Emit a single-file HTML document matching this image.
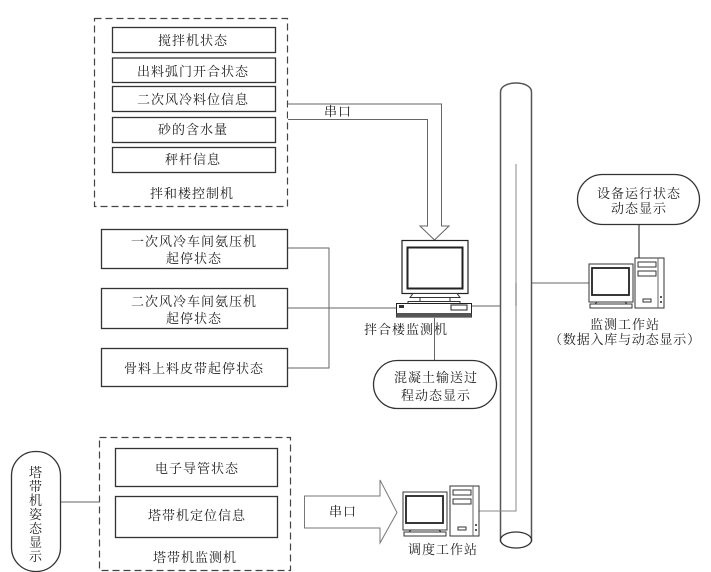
<!DOCTYPE html>
<html><head><meta charset="utf-8"><style>
html,body{margin:0;padding:0;background:#fff;width:711px;height:572px;overflow:hidden}
svg{display:block}
text{font-family:"Liberation Serif","Noto Serif CJK SC",serif;font-size:13px;fill:#222;text-anchor:middle;letter-spacing:1px}
.b{fill:#fff;stroke:#333;stroke-width:1.3}
.d{fill:none;stroke:#444;stroke-width:1.2;stroke-dasharray:7 4}
.l{fill:none;stroke:#666;stroke-width:1}
.n{fill:#fff;stroke:#333;stroke-width:1}
</style></head><body>
<svg width="711" height="572" viewBox="0 0 711 572" xmlns="http://www.w3.org/2000/svg">
<defs>
<g id="mon">
<rect class="n" x="0" y="0" width="44" height="38"/>
<rect x="3" y="4" width="37" height="27" fill="#fff" stroke="#222" stroke-width="1.8"/>
<path class="n" d="M8 38h28l2 2H6z"/>
<rect class="n" x="1" y="40" width="42" height="4" fill="#bbb"/>
</g>
<g id="tower">
<rect class="n" x="0" y="0" width="29" height="50"/>
<path class="l" d="M23 0v50"/>
<rect class="n" x="3" y="4" width="18" height="5" fill="#999"/>
<rect class="n" x="3" y="13" width="18" height="5" fill="#999"/>
<path class="n" d="M8 41h8v3H8z"/>
<path d="M26 38v2M26 43v2" stroke="#222" stroke-width="1.5"/>
</g>
</defs>

<!-- dashed containers -->
<rect class="d" x="94.500" y="18.500" width="193" height="188"/>
<rect class="d" x="99.500" y="437.500" width="191" height="133"/>

<!-- top inner -->
<rect class="b" x="112.500" y="27.500" width="163" height="25"/>
<rect class="b" x="112.500" y="58" width="163" height="24.500"/>
<rect class="b" x="112.500" y="86.500" width="163" height="25"/>
<rect class="b" x="112.500" y="117.500" width="163" height="25"/>
<rect class="b" x="112.500" y="147.500" width="163" height="25"/>
<text x="193" y="45">搅拌机状态</text>
<text x="193" y="76">出料弧门开合状态</text>
<text x="193" y="104">二次风冷料位信息</text>
<text x="193" y="134">砂的含水量</text>
<text x="193" y="164">秤杆信息</text>
<text x="192" y="198">拌和楼控制机</text>

<!-- serial arrow top -->
<path d="M288 104H441.500V226H449L434.500 240L420 226H427.500V119.500H288" fill="#fff" stroke="#666" stroke-width="1"/>
<text x="338" y="116">串口</text>

<!-- left boxes -->
<path class="l" d="M287 248H329V368H287"/>
<path class="l" d="M287 308H396"/>
<path class="l" d="M472 306H516"/>
<path class="l" d="M516 283H590"/>
<rect class="b" x="101.500" y="229.500" width="186" height="39"/>
<rect class="b" x="101.500" y="288.500" width="186" height="40"/>
<rect class="b" x="101.500" y="348.500" width="186" height="38"/>
<text x="194" y="246">一次风冷车间氨压机</text>
<text x="194" y="263">起停状态</text>
<text x="194" y="306">二次风冷车间氨压机</text>
<text x="194" y="323">起停状态</text>
<text x="194" y="373">骨料上料皮带起停状态</text>

<!-- cylinder -->
<path d="M500.500 92C500.500 80 531.500 80 531.500 92V541H500.500Z" fill="#fff" stroke="#555" stroke-width="1.500"/>
<ellipse cx="516" cy="540" rx="15.500" ry="8" fill="#fff" stroke="#333" stroke-width="1.300"/>
<path d="M516 164V511H479" fill="none" stroke="#888" stroke-width="1"/>
<path class="l" d="M516 283V306"/>

<!-- main monitor -->
<path class="l" d="M434.500 318V360"/>
<rect x="402" y="240.500" width="66" height="53" fill="#fff" stroke="#222" stroke-width="1.200"/>
<rect x="407.500" y="247.500" width="55" height="41" fill="#fff" stroke="#222" stroke-width="2"/>
<path class="n" d="M413 293.500h44l3 4h-50zM420 297.500h30v5h-30z"/>
<rect x="408" y="301.500" width="52" height="3" fill="#fff" stroke="#333"/>
<rect x="396.500" y="303.500" width="75" height="13.500" fill="#fff" stroke="#222"/>
<rect x="396.500" y="313" width="75" height="4" fill="#555"/>
<rect x="399" y="305" width="5" height="3" fill="#333"/>
<rect x="451" y="305" width="16" height="5" fill="#fff" stroke="#222"/>
<text x="406" y="334">拌合楼监测机</text>

<!-- rounded 2 -->
<rect x="373.500" y="360.500" width="123" height="48" rx="24" class="b"/>
<text x="436" y="382">混凝土输送过</text>
<text x="436" y="400">程动态显示</text>

<!-- right -->
<path d="M639 224V258" stroke="#666" stroke-width="1.500"/>
<rect x="577.500" y="174.500" width="122" height="50" rx="25" class="b"/>
<text x="639" y="198">设备运行状态</text>
<text x="639" y="213">动态显示</text>
<use href="#tower" x="635" y="258"/>
<use href="#mon" x="589" y="264"/>
<text x="625" y="329">监测工作站</text>
<text x="625" y="344" style="letter-spacing:.8px">（数据入库与动态显示）</text>

<!-- bottom -->
<rect class="b" x="115.500" y="448.500" width="162" height="38"/>
<rect class="b" x="115.500" y="496.500" width="162" height="41"/>
<text x="197" y="473">电子导管状态</text>
<text x="197" y="520">塔带机定位信息</text>
<text x="195" y="562">塔带机监测机</text>
<path class="l" d="M61 502H100"/>
<rect x="11.500" y="451.500" width="49" height="120" rx="24" class="b"/>
<text x="36" y="477">塔</text><text x="36" y="491">带</text><text x="36" y="505">机</text><text x="36" y="519">姿</text><text x="36" y="533">态</text><text x="36" y="547">显</text><text x="36" y="561">示</text>

<path d="M304.500 496H380V480L397 512.500L380 543V528H304.500Z" fill="#fff" stroke="#777" stroke-width="1"/>
<text x="343" y="516">串口</text>
<use href="#tower" x="450" y="486"/>
<use href="#mon" x="403" y="492"/>
<text x="443" y="554">调度工作站</text>
</svg>
</body></html>
